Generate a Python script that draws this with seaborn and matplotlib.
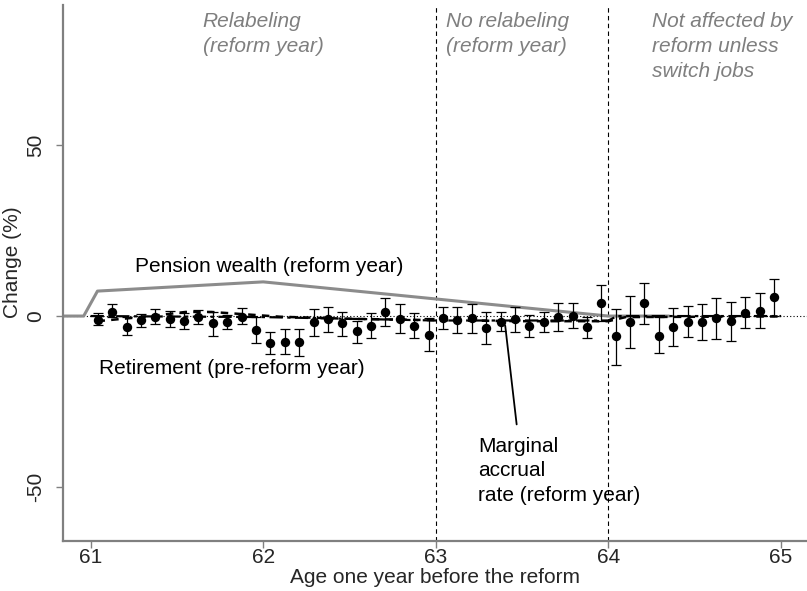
import numpy as np
import pandas as pd
import matplotlib
matplotlib.use("Agg")
import matplotlib.pyplot as plt
import seaborn as sns

# Monthly age bins (age one year before the reform)
months = np.arange(48)
ages = 61 + (months + 0.5) / 12

# Estimated change in retirement (%) with confidence bounds
estimate = [-1.2, 1.3, -3.1, -1.2, -0.2, -0.9, -1.5, -0.2, -2.1, -1.7, -0.2, -4.2,
            -7.8, -7.5, -7.7, -1.7, -1.0, -2.1, -4.4, -2.9, 1.3, -0.9, -2.9, -5.6,
            -0.5, -1.2, -0.7, -3.4, -1.7, -0.9, -2.9, -1.7, -0.4, 0.1, -3.1, 3.7,
            -5.8, -1.7, 3.7, -5.8, -3.3, -1.7, -1.8, -0.7, -1.5, 1.0, 1.6, 5.6]
ci_upper = [1.0, 3.5, -0.2, 0.6, 2.0, 1.5, 1.0, 1.8, 1.3, 0.3, 2.5, -0.3,
            -4.6, -3.9, -3.9, 2.0, 2.7, 1.3, -1.4, 0.8, 5.2, 3.4, 0.8, -0.7,
            2.6, 2.7, 3.5, 1.3, 1.1, 2.7, 0.3, 1.3, 3.7, 3.7, -0.2, 9.1,
            2.2, 5.9, 9.8, -0.2, 2.4, 3.0, 3.5, 5.2, 4.2, 5.6, 6.6, 10.8]
ci_lower = [-2.7, -0.2, -5.6, -3.1, -2.3, -3.2, -3.9, -2.3, -5.7, -3.9, -2.3, -8.0,
            -11.1, -11.1, -11.7, -5.7, -4.8, -5.8, -8.0, -6.5, -2.9, -5.1, -6.5, -10.1,
            -3.8, -5.1, -4.9, -8.2, -4.4, -4.6, -6.2, -4.8, -4.3, -3.6, -6.3, -1.4,
            -14.3, -9.3, -2.3, -10.9, -8.9, -6.2, -7.0, -6.7, -7.2, -3.6, -3.4, 0.1]

# Predicted change in pension wealth (reform year)
pw_age = [60.84, 60.96, 61.04, 62.0, 64.0, 64.35]
pw_change = [0.0, 0.0, 7.3, 10.0, 0.0, 0.0]

# Predicted retirement response (pre-reform year)
ret_age = [61.04, 61.25, 61.4, 61.55, 61.7, 61.9, 62.1, 62.5, 63.0, 63.5, 64.0, 64.1, 65.0]
ret_change = [-1.5, -0.5, 0.3, 1.2, 1.2, 0.5, -0.2, -0.8, -1.2, -1.5, -1.5, -0.3, -0.1]

# Marginal accrual rate (reform year)
mar_age = [61.0, 62.0, 63.0, 64.0, 64.05, 65.0]
mar_change = [0.0, -0.3, -1.3, -1.3, 0.0, 0.0]

df = pd.DataFrame({"age": ages, "est": estimate, "hi": ci_upper, "lo": ci_lower})

sns.set_theme(style="white")
plt.rcParams["font.family"] = ["Liberation Sans", "DejaVu Sans"]

FS = 15
fig = plt.figure(figsize=(8.07, 5.91), dpi=100)
ax = fig.add_axes([0.078, 0.0846, 0.922, 0.907])

XMIN, XMAX = 60.84, 65.15
ax.set_xlim(XMIN, XMAX)
ax.set_ylim(-65.8, 91)

# Reference lines
ax.axhline(0, color="black", lw=0.8, ls=(0, (1, 2)), zorder=1)
for v in (63, 64):
    ax.axvline(v, color="black", lw=0.8, ls=(0, (4, 3)), zorder=1)

sns.lineplot(x=pw_age, y=pw_change, ax=ax, color="#8c8c8c", lw=2.2,
             estimator=None, sort=False, zorder=2)
sns.lineplot(x=mar_age, y=mar_change, ax=ax, color="black", lw=1.6,
             estimator=None, sort=False, dashes=False, zorder=3)
ax.lines[-1].set_linestyle((0, (6, 2, 1.5, 2)))
sns.lineplot(x=ret_age, y=ret_change, ax=ax, color="black", lw=1.8,
             estimator=None, sort=False, zorder=3)
ax.lines[-1].set_linestyle((0, (3, 2.5)))

# Confidence intervals and point estimates
ax.errorbar(df["age"], df["est"],
            yerr=[df["est"] - df["lo"], df["hi"] - df["est"]],
            fmt="none", ecolor="black", elinewidth=0.9, capsize=3.4,
            capthick=0.9, zorder=4)
sns.scatterplot(data=df, x="age", y="est", ax=ax, color="black", s=46,
                edgecolor="black", linewidth=0, zorder=5)

# Annotations
gray_kw = dict(color="#7f7f7f", style="italic", fontsize=FS, va="top",
               ha="left", linespacing=1.38)
ax.text(61.65, 88.9, "Relabeling\n(reform year)", **gray_kw)
ax.text(63.06, 88.9, "No relabeling\n(reform year)", **gray_kw)
ax.text(64.255, 88.9, "Not affected by\nreform unless\nswitch jobs", **gray_kw)

ax.text(61.255, 14.6, "Pension wealth (reform year)", fontsize=FS,
        color="black", ha="left", va="center")
ax.text(61.05, -15.3, "Retirement (pre-reform year)", fontsize=FS,
        color="black", ha="left", va="center")
ax.text(63.245, -35.3, "Marginal\naccrual\nrate (reform year)", fontsize=FS,
        color="black", ha="left", va="top", linespacing=1.38)
ax.annotate("", xy=(63.4, -2.0), xytext=(63.47, -32.5),
            arrowprops=dict(arrowstyle="-", color="black", lw=1.3))

# Axes styling
ax.set_xticks([61, 62, 63, 64, 65])
ax.set_yticks([-50, 0, 50])
ax.set_yticklabels(["-50", "0", "50"], rotation=90, va="center")
ax.tick_params(axis="x", direction="out", length=5, width=1, color="#808080",
               labelsize=FS, pad=0, bottom=True)
ax.tick_params(axis="y", direction="out", length=5, width=1, color="#808080",
               labelsize=FS, pad=8, left=True)
for side in ("top", "right"):
    ax.spines[side].set_visible(False)
for side in ("left", "bottom"):
    ax.spines[side].set_color("#808080")
    ax.spines[side].set_linewidth(1.6)

ax.set_xlabel("Age one year before the reform", fontsize=FS, labelpad=1)
ax.set_ylabel("Change (%)", fontsize=FS)
ax.yaxis.set_label_coords(-0.055, 0.52)
ax.grid(False)

fig.savefig("out.png", dpi=100)
